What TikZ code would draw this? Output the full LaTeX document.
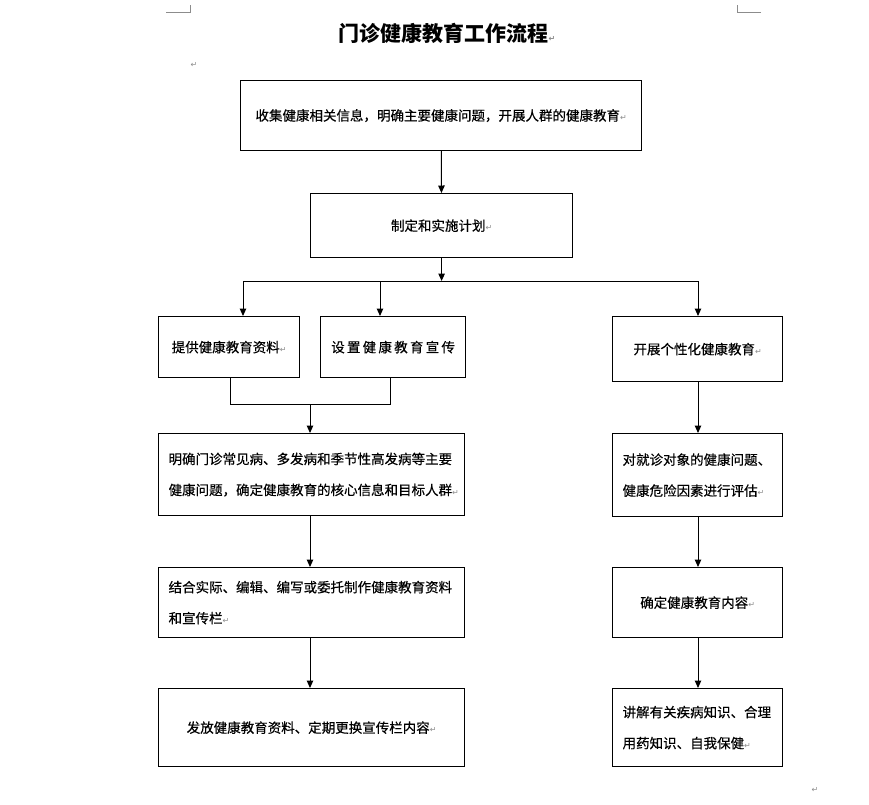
\documentclass[tikz,border=0pt]{standalone}
\usepackage{fontspec}
\usetikzlibrary{arrows.meta}
\newfontfamily\cjk[FakeBold=0.4]{Noto Sans CJK SC}
\newfontfamily\cjkt{Noto Sans CJK SC}
\newfontfamily\symf{DejaVu Sans}
\definecolor{markgray}{RGB}{140,140,140}
\newcommand\retmk{{\symf\color{markgray}\fontsize{8}{8}\selectfont ↵}}
\begin{document}
\begin{tikzpicture}[x=1pt,y=-1pt,
  box/.style={draw, line width=1.2pt, anchor=north west, inner ysep=0pt, inner xsep=4pt,
    align=center, font=\cjk\fontsize{13.5}{31}\selectfont},
  lbox/.style={box, align=left, inner xsep=10pt},
  arr/.style={-{Triangle[length=7.5pt,width=6.5pt]}, line width=1pt},
  ln/.style={line width=1pt},
  retnode/.style={inner sep=0pt}]
\fill[white] (0,0) rectangle (869,804);
\useasboundingbox (0,0) rectangle (869,804);
% corner marks
\draw[markgray, line width=0.8pt] (166,12) -- (190,12) -- (190,5);
\draw[markgray, line width=0.8pt] (761,12) -- (737,12) -- (737,5);
\node[retnode] (m1) at (194,65) {\retmk};
\node[retnode] (m2) at (815,790) {\retmk};
% title
\node (title) at (447,33) {\cjkt\bfseries\fontsize{21}{21}\selectfont 门诊健康教育工作流程\retmk};
% boxes
\node[box, minimum width=401pt, minimum height=70pt] (b1) at (240,80)
  {收集健康相关信息，明确主要健康问题，开展人群的健康教育\retmk};
\node[box, minimum width=262pt, minimum height=64pt] (b2) at (310,193)
  {制定和实施计划\retmk};
\node[box, minimum width=141pt, minimum height=61pt] (b3) at (158,316)
  {提供健康教育资料\retmk};
\node[box, minimum width=145pt, minimum height=61pt] (b4) at (320,316)
  {设\,置\,健\,康\,教\,育\,宣\,传};
\node[box, minimum width=170pt, minimum height=65pt] (b5) at (612,316)
  {开展个性化健康教育\retmk};
\node[lbox, text width=286pt, minimum height=82pt] (b6) at (158,433)
  {明确门诊常见病、多发病和季节性高发病等主要\\健康问题，确定健康教育的核心信息和目标人群\retmk};
\node[lbox, text width=286pt, minimum height=70pt] (b7) at (158,567)
  {结合实际、编辑、编写或委托制作健康教育资料\\和宣传栏\retmk};
\node[box, minimum width=306pt, minimum height=78pt] (b8) at (158,688)
  {发放健康教育资料、定期更换宣传栏内容\retmk};
\node[lbox, text width=150pt, minimum height=83pt] (b9) at (612,433)
  {对就诊对象的健康问题、\\健康危险因素进行评估\retmk};
\node[box, minimum width=170pt, minimum height=70pt] (b10) at (612,567)
  {确定健康教育内容\retmk};
\node[lbox, text width=150pt, minimum height=78pt] (b11) at (612,688)
  {讲解有关疾病知识、合理\\用药知识、自我保健\retmk};
% connectors
\coordinate (hl) at (243,281);
\coordinate (hm) at (380,281);
\coordinate (hr) at (698,281);
\coordinate (bl) at (230,404);
\coordinate (bm) at (310,404);
\coordinate (br) at (390,404);
\draw[arr] (b1) -- (b2);
\draw[arr] (b2.south) -- (b2.south |- hl);
\draw[ln] (hl) -- (hr);
\draw[arr] (hl) -- (hl |- b3.north);
\draw[arr] (hm) -- (hm |- b4.north);
\draw[arr] (hr) -- (hr |- b5.north);
\draw[ln] (bl |- b3.south) -- (bl) -- (br) -- (br |- b4.south);
\draw[arr] (bm) -- (bm |- b6.north);
\draw[arr] (b6.south -| bm) -- (b7.north -| bm);
\draw[arr] (b7.south -| bm) -- (b8.north -| bm);
\draw[arr] (b5.south -| hr) -- (b9.north -| hr);
\draw[arr] (b9.south -| hr) -- (b10.north -| hr);
\draw[arr] (b10.south -| hr) -- (b11.north -| hr);
\end{tikzpicture}
\end{document}
